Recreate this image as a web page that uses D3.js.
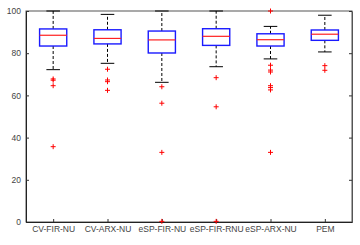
<!DOCTYPE html>
<html>
<head>
<meta charset="utf-8">
<script src="https://cdn.jsdelivr.net/npm/d3@7"></script>
<style>
  body { margin: 0; background: #fff; }
  text { font-family: "Liberation Sans", Arial, sans-serif; fill: #444; }
</style>
</head>
<body>
<div id="chart"></div>
<script>
const categories = ['CV-FIR-NU', 'CV-ARX-NU', 'eSP-FIR-NU', 'eSP-FIR-RNU', 'eSP-ARX-NU', 'PEM'];
const whiskerHigh = [100, 98.4, 100, 100, 92.7, 98];
const q3 = [91.5, 91.1, 90.5, 91.6, 89.2, 91];
const medians = [88.5, 87, 86.3, 88, 86.4, 89];
const q1 = [83.4, 84.4, 80.1, 83.7, 83.4, 86.1];
const whiskerLow = [72.2, 75.2, 66.2, 73.6, 77.3, 80.6];
const outliers = [
  [67.8, 67.2, 64.6, 35.7],
  [72.4, 67.3, 66.5, 62.4],
  [64.1, 56.3, 33, 0.3],
  [68.4, 54.6, 0.3],
  [100, 74.3, 72, 71.1, 64.6, 63.7, 62.6, 33],
  [74.1, 71.9]
];
const yTicks = [0, 20, 40, 60, 80, 100];

const width = 360;
const height = 245;
const margin = { top: 11, right: 8, bottom: 23, left: 26 };

const svg = d3.select('#chart').append('svg')
  .attr('width', width)
  .attr('height', height);

const x = d3.scaleLinear()
  .domain([0.5, categories.length + 0.5])
  .range([margin.left, width - margin.right]);

const y = d3.scaleLinear()
  .domain([0, 100])
  .range([height - margin.bottom, margin.top]);

const unit = x(1) - x(0);
const boxW = unit * 0.5;
const capW = unit * 0.25;

const data = categories.map((c, i) => ({
  name: c,
  pos: i + 1,
  hi: whiskerHigh[i],
  q3: q3[i],
  med: medians[i],
  q1: q1[i],
  lo: whiskerLow[i],
  out: outliers[i]
}));

// frame
const x0 = x.range()[0], x1 = x.range()[1];
const y0 = y.range()[0], y1 = y.range()[1];
svg.append('rect')
  .attr('x', x0).attr('y', y1)
  .attr('width', x1 - x0).attr('height', y0 - y1)
  .attr('fill', 'none')
  .attr('stroke', '#555')
  .attr('stroke-width', 1);

// axes
const yAxis = d3.axisLeft(y).tickValues(yTicks).tickSizeInner(-3).tickSizeOuter(0).tickPadding(5);
const yAxisR = d3.axisRight(y).tickValues(yTicks).tickSizeInner(-3).tickSizeOuter(0).tickFormat('');
const xAxis = d3.axisBottom(x).tickValues(data.map(d => d.pos))
  .tickFormat((d, i) => categories[i]).tickSizeInner(-3).tickSizeOuter(0).tickPadding(4);

const gy = svg.append('g').attr('transform', `translate(${x0},0)`).call(yAxis);
const gyr = svg.append('g').attr('transform', `translate(${x1},0)`).call(yAxisR);
const gx = svg.append('g').attr('transform', `translate(0,${y0})`).call(xAxis);

[gy, gyr, gx].forEach(g => {
  g.select('.domain').attr('stroke', '#222');
  g.selectAll('.tick line').attr('stroke', '#333');
  g.selectAll('text').attr('font-size', 8.5).attr('fill', '#444')
    .attr('font-family', '"Liberation Sans", Arial, sans-serif');
});
gyr.select('.domain').attr('stroke', '#555');

const boxes = svg.append('g').selectAll('g')
  .data(data)
  .join('g');

// whiskers
boxes.append('line')
  .attr('x1', d => x(d.pos)).attr('x2', d => x(d.pos))
  .attr('y1', d => y(d.q3)).attr('y2', d => y(d.hi))
  .attr('stroke', '#000').attr('stroke-dasharray', '3,2');
boxes.append('line')
  .attr('x1', d => x(d.pos)).attr('x2', d => x(d.pos))
  .attr('y1', d => y(d.q1)).attr('y2', d => y(d.lo))
  .attr('stroke', '#000').attr('stroke-dasharray', '3,2');

// caps
['hi', 'lo'].forEach(k => {
  boxes.append('line')
    .attr('x1', d => x(d.pos) - capW / 2).attr('x2', d => x(d.pos) + capW / 2)
    .attr('y1', d => y(d[k])).attr('y2', d => y(d[k]))
    .attr('stroke', '#000').attr('stroke-width', 1);
});

// boxes
boxes.append('rect')
  .attr('x', d => x(d.pos) - boxW / 2)
  .attr('y', d => y(d.q3))
  .attr('width', boxW)
  .attr('height', d => y(d.q1) - y(d.q3))
  .attr('fill', 'none')
  .attr('stroke', '#1a1aff')
  .attr('stroke-width', 1.4);

// medians
boxes.append('line')
  .attr('x1', d => x(d.pos) - boxW / 2).attr('x2', d => x(d.pos) + boxW / 2)
  .attr('y1', d => y(d.med)).attr('y2', d => y(d.med))
  .attr('stroke', '#ff2020').attr('stroke-width', 1.2);

// outliers
boxes.selectAll('.out')
  .data(d => d.out.map(v => ({ pos: d.pos, v })))
  .join('path')
  .attr('class', 'out')
  .attr('transform', d => `translate(${x(d.pos)},${y(d.v)})`)
  .attr('d', 'M-2.5,0H2.5M0,-2.5V2.5')
  .attr('stroke', '#ff0000')
  .attr('stroke-width', 1);
</script>
</body>
</html>
